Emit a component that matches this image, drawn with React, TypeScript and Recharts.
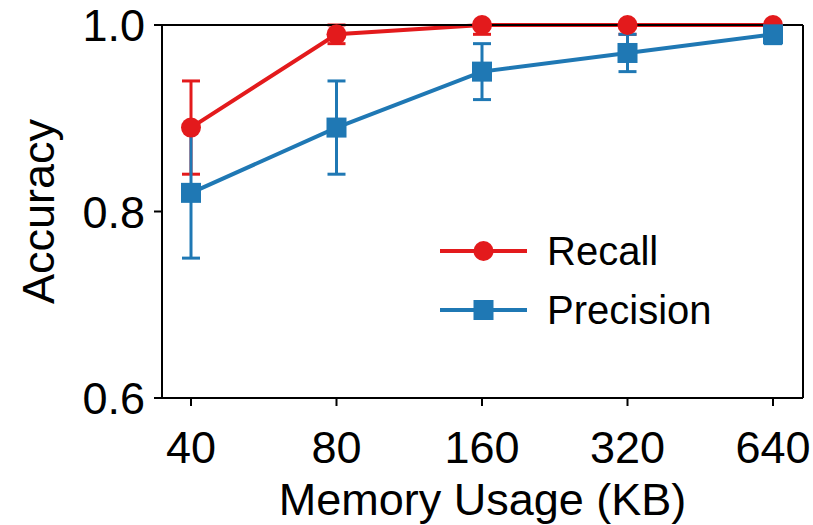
import { LineChart, Line, XAxis, YAxis, ErrorBar, Legend } from "recharts";

const RED = "#e31a1c";
const BLUE = "#1f78b4";
const FONT = "'Liberation Sans', Arial, sans-serif";

const memory = ["40", "80", "160", "320", "640"];
const recall = [0.89, 0.99, 1.0, 1.0, 1.0];
const recallErrLow = [0.05, 0.01, 0.01, 0.01, 0.01];
const recallErrHigh = [0.05, 0.01, 0, 0, 0];
const precision = [0.82, 0.89, 0.95, 0.97, 0.99];
const precisionErr = [0.07, 0.05, 0.03, 0.02, 0.01];
const yTicks = [0.6, 0.8, 1.0];

const data = memory.map((m, i) => ({
  mem: m,
  recall: recall[i],
  recallErr: [recallErrLow[i], recallErrHigh[i]],
  precision: precision[i],
  precisionErr: precisionErr[i],
}));

const XTick = ({ x, y, payload }: any) => (
  <text x={x} y={y} dy={57} textAnchor="middle" fontSize={45} fontFamily={FONT} fill="#000">
    {payload.value}
  </text>
);

const YTick = ({ x, y, payload }: any) => (
  <text x={x - 9} y={y} dy={16} textAnchor="end" fontSize={45} fontFamily={FONT} fill="#000">
    {Number(payload.value).toFixed(1)}
  </text>
);

const SquareDot = ({ cx, cy, index }: any) => (
  <rect key={`sq-${index}`} x={cx - 10} y={cy - 10} width={20} height={20} fill={BLUE} />
);

const LegendBox = () => {
  const rows = [
    { name: "Recall", color: RED, shape: "circle" },
    { name: "Precision", color: BLUE, shape: "square" },
  ];
  return (
    <div style={{ fontFamily: FONT }}>
      {rows.map((r) => (
        <div key={r.name} style={{ display: "flex", alignItems: "center", height: 59 }}>
          <svg width={87} height={24}>
            <line x1={0} y1={12} x2={87} y2={12} stroke={r.color} strokeWidth={4} />
            {r.shape === "circle" ? (
              <circle cx={43.5} cy={12} r={10} fill={r.color} />
            ) : (
              <rect x={33.5} y={2} width={20} height={20} fill={r.color} />
            )}
          </svg>
          <span style={{ marginLeft: 20, fontSize: 40, lineHeight: 1, color: "#000" }}>{r.name}</span>
        </div>
      ))}
    </div>
  );
};

const axisStroke = { stroke: "#000", strokeWidth: 2 };

export default function App() {
  return (
    <div style={{ position: "absolute", left: 0, top: 0, background: "#fff" }}>
      <LineChart width={813} height={525} data={data} margin={{ top: 24, right: 9, bottom: 0, left: 0 }}>
        <XAxis
          dataKey="mem"
          height={127}
          padding={{ left: 29, right: 30 }}
          tick={<XTick />}
          tickSize={8}
          tickMargin={0}
          axisLine={axisStroke}
          tickLine={axisStroke}
          label={({ viewBox }: any) => (
            <text
              x={viewBox.x + viewBox.width / 2}
              y={515}
              textAnchor="middle"
              fontSize={45}
              fontFamily={FONT}
              fill="#000"
            >
              Memory Usage (KB)
            </text>
          )}
        />
        <XAxis
          xAxisId="top"
          orientation="top"
          dataKey="mem"
          height={1}
          padding={{ left: 29, right: 30 }}
          tick={false}
          tickLine={false}
          axisLine={axisStroke}
        />
        <YAxis
          domain={[0.6, 1.0]}
          ticks={yTicks}
          width={162}
          tick={<YTick />}
          tickSize={8}
          tickMargin={0}
          axisLine={axisStroke}
          tickLine={axisStroke}
          label={({ viewBox }: any) => {
            const cy = viewBox.y + viewBox.height / 2;
            return (
              <text
                x={38}
                y={cy}
                transform={`rotate(-90, 38, ${cy})`}
                textAnchor="middle"
                dominantBaseline="central"
                fontSize={45}
                fontFamily={FONT}
                fill="#000"
              >
                Accuracy
              </text>
            );
          }}
        />
        <YAxis
          yAxisId="right"
          orientation="right"
          domain={[0.6, 1.0]}
          ticks={yTicks}
          width={1}
          tick={false}
          tickLine={false}
          axisLine={axisStroke}
        />
        <Line
          dataKey="recall"
          stroke={RED}
          strokeWidth={4}
          dot={{ r: 10, fill: RED, stroke: "none" }}
          activeDot={false}
          isAnimationActive={false}
        />
        <Line
          dataKey="precision"
          stroke={BLUE}
          strokeWidth={4}
          dot={<SquareDot />}
          activeDot={false}
          isAnimationActive={false}
        />
        <Line
          xAxisId="top"
          yAxisId="right"
          dataKey="recall"
          stroke="none"
          dot={false}
          activeDot={false}
          isAnimationActive={false}
        >
          <ErrorBar dataKey="recallErr" width={9} strokeWidth={3} stroke={RED} direction="y" isAnimationActive={false} />
        </Line>
        <Line
          xAxisId="top"
          yAxisId="right"
          dataKey="precision"
          stroke="none"
          dot={false}
          activeDot={false}
          isAnimationActive={false}
        >
          <ErrorBar dataKey="precisionErr" width={9} strokeWidth={3} stroke={BLUE} direction="y" isAnimationActive={false} />
        </Line>
        <Legend
          layout="vertical"
          align="center"
          verticalAlign="middle"
          content={<LegendBox />}
          wrapperStyle={{ left: 440, top: 221, width: 300 }}
        />
      </LineChart>
    </div>
  );
}
